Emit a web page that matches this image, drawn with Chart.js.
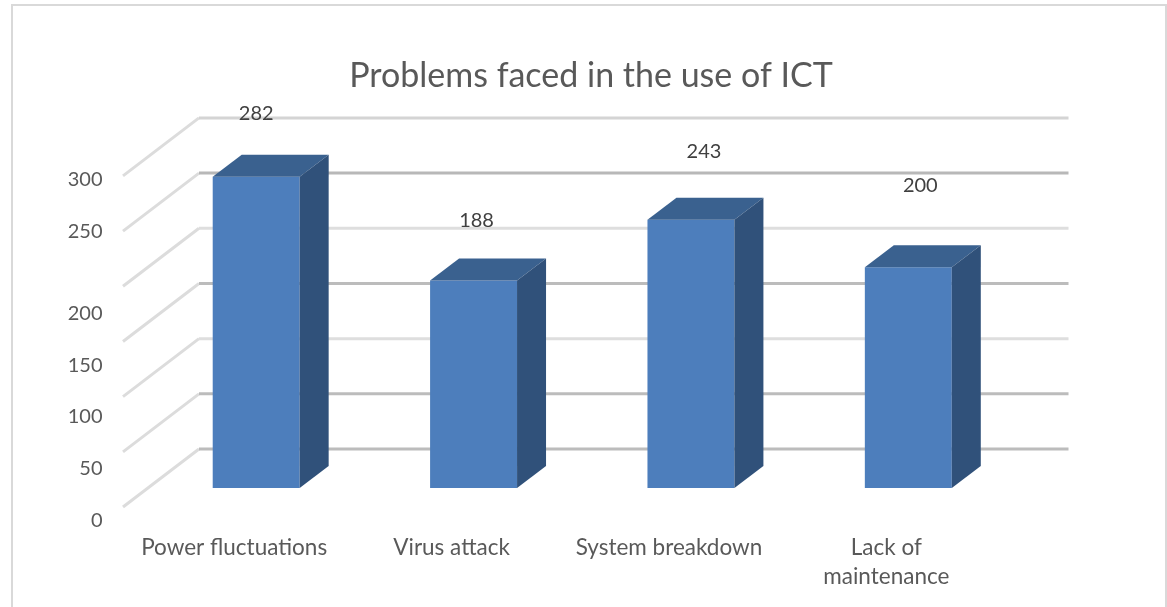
<!DOCTYPE html>
<html>
<head>
<meta charset="utf-8">
<title>Problems faced in the use of ICT</title>
<script src="https://cdn.jsdelivr.net/npm/chart.js@4"></script>
<style>
  html, body { margin: 0; background: #fff; overflow: hidden; }
  #frame { position: absolute; left: 11px; top: 4px; width: 1152px; height: 620px; border: 2px solid #d9d9d9; }
  #myChart { position: absolute; left: 0; top: 0; }
</style>
</head>
<body>
<div id="frame"></div>
<canvas id="myChart" width="1167" height="607"></canvas>
<script>
const categories = ['Power fluctuations', 'Virus attack', 'System breakdown', ['Lack of', 'maintenance']];
const problemCounts = [282, 188, 243, 200];
const tickLabels = [0, 50, 100, 150, 200, 250, 300];

// layout tweaks, the original's labels don't sit regularly
const tickLift = [0, 0, 0, 0, 0, 29, 29];
const valueLabelNudge = [[0, -63], [3, -60], [13, -68], [12, -82]];
const gridColors = ['#bcbcbc', '#bcbcbc', '#dedede', '#bcbcbc', '#dedede', '#b8b8b8', '#d4d4d4'];

const fontName = 'Lato';
const barDepth = { x: 29, y: -22 };
const wallShift = { x: 51.5, y: -39 };
const sideWall = { x: -76, y: 58 };

const box3d = {
    id: 'box3d',
    beforeDatasetsDraw(chart) {
        const ctx = chart.ctx;
        const yScale = chart.scales.y;
        const right = chart.scales.x.right + wallShift.x;
        ctx.save();
        ctx.lineWidth = 3;
        tickLabels.forEach((v, i) => {
            const y = yScale.getPixelForValue(v) + wallShift.y;
            const left = chart.scales.x.left + wallShift.x;
            ctx.strokeStyle = '#dcdcdc';
            ctx.beginPath();
            ctx.moveTo(left + sideWall.x, y + sideWall.y);
            ctx.lineTo(left, y);
            ctx.stroke();
            ctx.strokeStyle = gridColors[i];
            ctx.beginPath();
            ctx.moveTo(left, y);
            ctx.lineTo(right, y);
            ctx.stroke();
        });
        ctx.restore();
    },
    afterDatasetsDraw(chart) {
        const ctx = chart.ctx;
        ctx.save();
        chart.getDatasetMeta(0).data.forEach((bar, i) => {
            const l = bar.x - bar.width / 2;
            const r = bar.x + bar.width / 2;
            ctx.fillStyle = '#3a618f';
            ctx.beginPath();
            ctx.moveTo(l, bar.y);
            ctx.lineTo(l + barDepth.x, bar.y + barDepth.y);
            ctx.lineTo(r + barDepth.x, bar.y + barDepth.y);
            ctx.lineTo(r, bar.y);
            ctx.fill();
            ctx.fillStyle = '#30517a';
            ctx.beginPath();
            ctx.moveTo(r, bar.y);
            ctx.lineTo(r + barDepth.x, bar.y + barDepth.y);
            ctx.lineTo(r + barDepth.x, bar.base + barDepth.y);
            ctx.lineTo(r, bar.base);
            ctx.fill();

            ctx.fillStyle = '#404040';
            ctx.font = '20px ' + fontName;
            ctx.textAlign = 'center';
            ctx.textBaseline = 'middle';
            ctx.fillText(problemCounts[i], bar.x + valueLabelNudge[i][0], bar.y + valueLabelNudge[i][1]);
        });
        ctx.restore();
    }
};

let myChart = document.getElementById('myChart').getContext('2d');

let ictChart = new Chart(myChart, {
    type: 'bar',
    plugins: [box3d],
    data: {
        labels: categories,
        datasets: [{
            data: problemCounts,
            yAxisID: 'y',
            backgroundColor: '#4d7ebc',
            barPercentage: 0.4,
            categoryPercentage: 1
        }]
    },
    options: {
        responsive: false,
        animation: false,
        layout: { padding: { left: 22, right: 7, top: 0, bottom: 0 } },
        plugins: {
            legend: { display: false },
            tooltip: { enabled: false },
            title: {
                display: true,
                text: 'Problems faced in the use of ICT',
                color: '#595959',
                font: { family: fontName, size: 34, weight: 'normal' },
                padding: { top: 56, bottom: 13 }
            }
        },
        scales: {
            x: {
                grid: { display: false },
                border: { display: false },
                ticks: {
                    color: '#595959',
                    font: { family: fontName, size: 22.5, lineHeight: 1.29 },
                    maxRotation: 0,
                    autoSkip: false,
                    labelOffset: -22,
                    padding: 0
                },
                afterFit(scale) { scale.height = 82; }
            },
            y: {
                position: 'right',
                min: -33.5,
                max: 342.7,
                grid: { display: false },
                border: { display: false },
                ticks: { display: false },
                afterFit(scale) { scale.width = 143; }
            },
            yLabels: {
                position: 'left',
                min: -4.35,
                max: 396.45,
                grid: { display: false },
                border: { display: false },
                ticks: {
                    color: '#595959',
                    font: { family: fontName, size: 20 },
                    padding: 37,
                    callback(value, index) { return tickLabels[index]; }
                },
                afterBuildTicks(scale) {
                    scale.ticks = tickLabels.map((v, i) => ({ value: v + tickLift[i] }));
                },
                afterFit(scale) { scale.width = 125.5; }
            }
        }
    }
});
</script>
</body>
</html>
